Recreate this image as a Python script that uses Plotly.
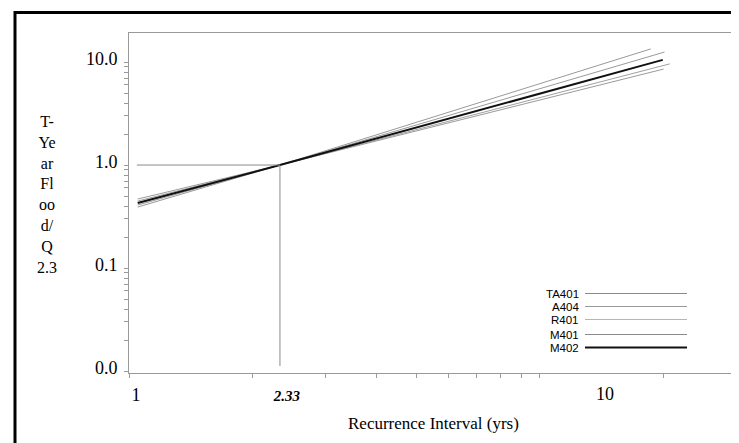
import numpy as np
import plotly.graph_objects as go

# ---- data ----
series_names = ["TA401", "A404", "R401", "M401", "M402"]
T_points = {
    "TA401": [1.05, 2.33, 18.6],
    "A404":  [1.05, 2.33, 20.1],
    "R401":  [1.05, 2.33, 20.7],
    "M401":  [1.05, 2.33, 20.0],
    "M402":  [1.05, 2.33, 19.9],
}
Q_points = {
    "TA401": [0.391, 1.0, 13.4],
    "A404":  [0.409, 1.0, 12.5],
    "R401":  [0.447, 1.0, 9.6],
    "M401":  [0.468, 1.0, 8.55],
    "M402":  [0.428, 1.0, 10.5],
}
T_ref = 2.33
Q_ref = 1.0
ref_T_start = 1.045
ref_Q_bottom = 0.0112

x_label_vals = [1, 2.33]
x_label_text = ["1", "<b><i><span style='font-size:15px'>2.33</span></i></b>"]
x_extra_label = "10"
x_minor_vals = [1, 2, 3, 4, 5, 6, 7, 8, 9, 10, 20, 30]
y_label_vals = [0.01, 0.1, 1, 10]
y_label_text = ["0.0", "0.1", "1.0", "10.0"]
y_minor_vals = [m * d for d in (0.01, 0.1, 1) for m in range(2, 10)]

# ---- styles ----
colors = {"TA401": "#8a8a8a", "A404": "#9a9a9a", "R401": "#b5b5b5", "M401": "#8a8a8a", "M402": "#111111"}
widths = {"TA401": 1, "A404": 1, "R401": 1, "M401": 1, "M402": 2}
plot_colors = {"TA401": "#9a9a9a", "A404": "#9a9a9a", "R401": "#a0a0a0", "M401": "#9a9a9a", "M402": "#111111"}

fig = go.Figure()
for name in series_names:
    fig.add_trace(go.Scatter(x=T_points[name], y=Q_points[name], mode="lines", name=name,
                             line=dict(color=plot_colors[name], width=widths[name]),
                             showlegend=False))

# reference lines at T=2.33, Q=1
fig.add_trace(go.Scatter(x=[ref_T_start, T_ref], y=[Q_ref, Q_ref], mode="lines",
                         line=dict(color="#8a8a8a", width=1), showlegend=False))
fig.add_trace(go.Scatter(x=[T_ref, T_ref], y=[Q_ref, ref_Q_bottom], mode="lines",
                         line=dict(color="#8a8a8a", width=1), showlegend=False))

L, R, T, B = 121, 11, 25, 78
W, H = 739, 443
pw, ph = W - L - R, H - T - B

def px(xp):
    return (xp - L) / pw

def py(yp):
    return (H - B - yp) / ph

serif = "Liberation Serif"
axis_col = "#9a9a9a"

fig.update_layout(
    width=W, height=H, autosize=False,
    margin=dict(l=L, r=R, t=T, b=B, pad=0),
    paper_bgcolor="white", plot_bgcolor="white",
    showlegend=False,
    xaxis=dict(type="log", range=[0, np.log10(30)], showgrid=False, zeroline=False,
               showline=True, mirror=True, linecolor=axis_col, linewidth=1,
               tickmode="array", tickvals=x_label_vals, ticktext=x_label_text, ticks="",
               tickfont=dict(family=serif, size=18, color="black"),
               ticklabelshift=7, ticklabelstandoff=5,
               minor=dict(tickmode="array", tickvals=x_minor_vals, ticks="outside", ticklen=4,
                          tickcolor=axis_col, showgrid=False)),
    yaxis=dict(type="log", range=[-2.019, 1.282], showgrid=False, zeroline=False,
               showline=True, mirror=True, linecolor=axis_col, linewidth=1,
               tickmode="array", tickvals=y_label_vals, ticktext=y_label_text,
               ticks="outside", ticklen=4, tickcolor=axis_col,
               tickfont=dict(family=serif, size=18, color="black"),
               ticklabelshift=-3, ticklabelstandoff=3,
               minor=dict(tickmode="array", tickvals=y_minor_vals, ticks="outside", ticklen=4,
                          tickcolor=axis_col, showgrid=False)),
)

shapes = []
annotations = []

# outer black border
shapes.append(dict(type="rect", xref="paper", yref="paper",
                   x0=px(7), x1=px(750), y0=py(441.5), y1=py(4.5),
                   line=dict(color="black", width=3), fillcolor="rgba(0,0,0,0)", layer="below"))

# "10" label as drawn in the reference
annotations.append(dict(xref="paper", yref="paper", x=px(597), y=py(386), xanchor="center", yanchor="middle",
                        text=x_extra_label, showarrow=False,
                        font=dict(family=serif, size=18, color="black")))

# y-axis title (broken vertical text as in reference)
annotations.append(dict(xref="paper", yref="paper", x=px(39), y=py(186), xanchor="center", yanchor="middle",
                        text="T-<br>Ye<br>ar<br>Fl<br>oo<br>d/<br>Q<br>2.3", showarrow=False,
                        font=dict(family=serif, size=16, color="black"), align="center"))
# x-axis title
annotations.append(dict(xref="paper", yref="paper", x=px(425), y=py(416), xanchor="center", yanchor="middle",
                        text="Recurrence Interval (yrs)", showarrow=False,
                        font=dict(family=serif, size=17, color="black")))

# manual legend
legend_rows = [285.5, 298.5, 311.5, 326.5, 339.5]
for name, yrow in zip(series_names, legend_rows):
    shapes.append(dict(type="line", xref="paper", yref="paper",
                       x0=px(577), x1=px(679), y0=py(yrow), y1=py(yrow),
                       line=dict(color=colors[name], width=widths[name])))
    annotations.append(dict(xref="paper", yref="paper", x=px(573), y=py(yrow), xanchor="right",
                            yanchor="middle", text=name, showarrow=False, height=11,
                            font=dict(family="Liberation Sans", size=11.5, color="black")))

fig.update_layout(shapes=shapes, annotations=annotations)
fig.write_html("out.html")
